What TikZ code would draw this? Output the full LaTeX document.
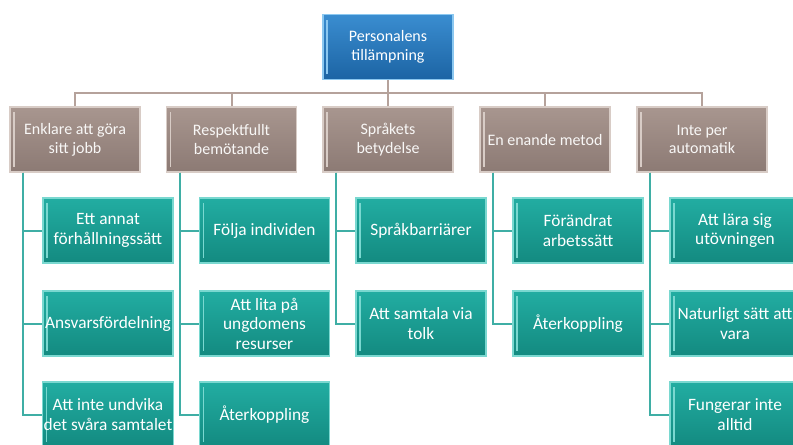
\documentclass[tikz,border=0pt]{standalone}
\usepackage{fontspec}
\setmainfont{Carlito}
\definecolor{persblue}{HTML}{3A8DD0}
\definecolor{persbluedark}{HTML}{1C64A4}
\definecolor{persblueedge}{HTML}{8CC8F0}
\definecolor{catbrown}{HTML}{A8968F}
\definecolor{catbrowndark}{HTML}{8C7A74}
\definecolor{catbrownedge}{HTML}{D8CCC6}
\definecolor{itemteal}{HTML}{22ADA2}
\definecolor{itemtealdark}{HTML}{138A80}
\definecolor{itemtealedge}{HTML}{7AD8D0}
\definecolor{barbrown}{HTML}{B5A29B}
\definecolor{barteal}{HTML}{3FAEA5}
\newcommand\orgboxwidth{97.5pt}
\newcommand\orgboxheight{48.75pt}
\newcommand\orgtextstyle{\fontsize{12}{14}\selectfont}
\newcommand\itemtextstyle{\fontsize{13}{14.6}\selectfont}
\tikzset{
  orgbox/.style={minimum width=\orgboxwidth, minimum height=\orgboxheight,
    inner sep=1pt, align=center, font=\orgtextstyle, line width=0.8pt},
  glint/.style={path picture={
    \draw[#1, line width=1.2pt]
      ([xshift=3pt,yshift=-4pt]path picture bounding box.north west) --
      ([xshift=3pt,yshift=4pt]path picture bounding box.south west);}},
  persbox/.style={orgbox, draw=persblueedge, top color=persblue,
    bottom color=persbluedark, text=white, glint=persblueedge},
  catbox/.style={orgbox, draw=catbrownedge, top color=catbrown,
    bottom color=catbrowndark, text=white!92!catbrown, glint=catbrownedge},
  itembox/.style={orgbox, font=\itemtextstyle, draw=itemtealedge,
    top color=itemteal, bottom color=itemtealdark, text=white,
    glint=itemtealedge},
  upline/.style={draw=barbrown, line width=1.5pt},
  downline/.style={draw=barteal, line width=1.5pt},
}
\begin{document}
\begin{tikzpicture}[x=0.75pt, y=-0.75pt]
  \clip (0,0) rectangle (793,444);
  \fill[white] (0,0) rectangle (793,444);
  % top
  \node[persbox] (pers) at (388,47) {Personalens\\tillämpning};
  % categories
  \node[catbox] (cat1) at (75,139.5) {Enklare att göra\\sitt jobb};
  \node[catbox] (cat2) at (231.5,139.5) {Respektfullt\\bemötande};
  \node[catbox] (cat3) at (388,139.5) {Språkets\\betydelse};
  \node[catbox] (cat4) at (545,139.5) {En enande metod};
  \node[catbox] (cat5) at (702,139.5) {Inte per\\automatik};
  % upper connectors
  \draw[upline] (pers.south) -- ++(0,13) -| (cat1.north);
  \draw[upline] (pers.south) -- ++(0,13) -| (cat2.north);
  \draw[upline] (pers.south) -- (cat3.north);
  \draw[upline] (pers.south) -- ++(0,13) -| (cat4.north);
  \draw[upline] (pers.south) -- ++(0,13) -| (cat5.north);
  % items, column 1
  \node[itembox] (item11) at (108,230.5) {Ett annat\\förhållningssätt};
  \node[itembox] (item12) at (108,323.5) {Ansvarsfördelning};
  \node[itembox] (item13) at (108,414.5) {Att inte undvika\\det svåra samtalet};
  % items, column 2
  \node[itembox] (item21) at (264.5,230.5) {Följa individen};
  \node[itembox] (item22) at (264.5,323.5) {Att lita på\\ungdomens\\resurser};
  \node[itembox] (item23) at (264.5,414.5) {Återkoppling};
  % items, column 3
  \node[itembox] (item31) at (421,230.5) {Språkbarriärer};
  \node[itembox] (item32) at (421,323.5) {Att samtala via\\tolk};
  % items, column 4
  \node[itembox] (item41) at (578,230.5) {Förändrat\\arbetssätt};
  \node[itembox] (item42) at (578,323.5) {Återkoppling};
  % items, column 5
  \node[itembox] (item51) at (735,230.5) {Att lära sig\\utövningen};
  \node[itembox] (item52) at (735,323.5) {Naturligt sätt att\\vara};
  \node[itembox] (item53) at (735,414.5) {Fungerar inte\\alltid};
  % lower connectors
  \draw[downline] ([xshift=10.5pt]cat1.south west) |- (item11.west);
  \draw[downline] ([xshift=10.5pt]cat1.south west) |- (item12.west);
  \draw[downline] ([xshift=10.5pt]cat1.south west) |- (item13.west);
  \draw[downline] ([xshift=10.5pt]cat2.south west) |- (item21.west);
  \draw[downline] ([xshift=10.5pt]cat2.south west) |- (item22.west);
  \draw[downline] ([xshift=10.5pt]cat2.south west) |- (item23.west);
  \draw[downline] ([xshift=10.5pt]cat3.south west) |- (item31.west);
  \draw[downline] ([xshift=10.5pt]cat3.south west) |- (item32.west);
  \draw[downline] ([xshift=10.5pt]cat4.south west) |- (item41.west);
  \draw[downline] ([xshift=10.5pt]cat4.south west) |- (item42.west);
  \draw[downline] ([xshift=10.5pt]cat5.south west) |- (item51.west);
  \draw[downline] ([xshift=10.5pt]cat5.south west) |- (item52.west);
  \draw[downline] ([xshift=10.5pt]cat5.south west) |- (item53.west);
\end{tikzpicture}
\end{document}
